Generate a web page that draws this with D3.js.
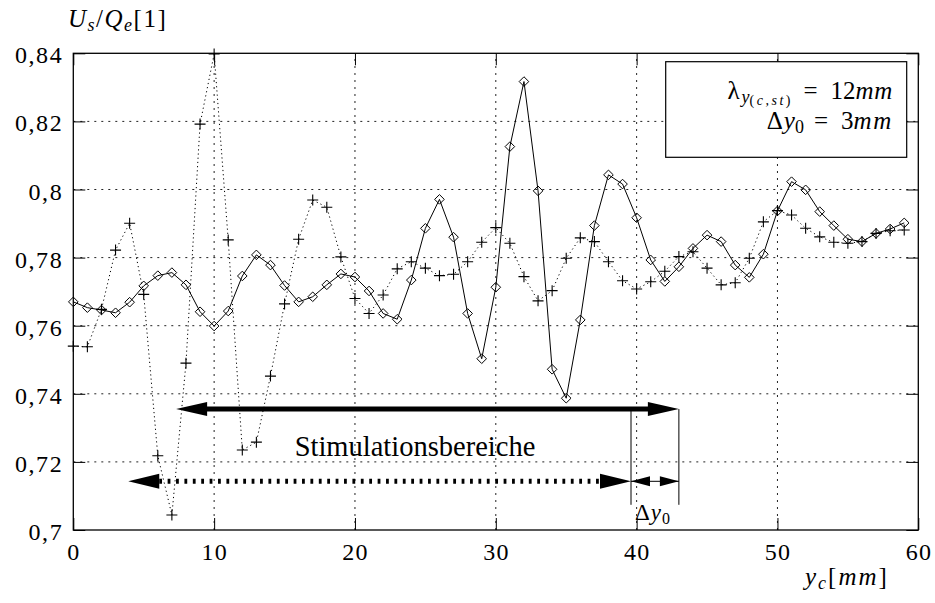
<!DOCTYPE html>
<html>
<head>
<meta charset="utf-8">
<script src="https://cdn.jsdelivr.net/npm/d3@7"></script>
<style>
  html, body { margin: 0; padding: 0; background: #fff; }
  svg { display: block; }
  .it { font-style: italic; }
</style>
</head>
<body>
<svg id="chart" width="935" height="603"></svg>
<script>
// Measurement positions y_c in mm
const yc = [0,1,2,3,4,5,6,7,8,9,10,11,12,13,14,15,16,17,18,19,
            20,21,22,23,24,25,26,27,28,29,30,31,32,33,34,35,36,37,38,39,
            40,41,42,43,44,45,46,47,48,49,50,51,52,53,54,55,56,57,58,59];

// U_s/Q_e, shifted stimulation range (solid line, diamonds)
const ratioShifted = [0.7670,0.7653,0.7646,0.7638,0.7669,0.7717,0.7747,0.7756,0.7720,0.7641,
                      0.7599,0.7643,0.7746,0.7808,0.7778,0.7718,0.7670,0.7685,0.7720,0.7752,
                      0.7743,0.7702,0.7636,0.7619,0.7734,0.7886,0.7971,0.7860,0.7636,0.7503,
                      0.7713,0.8126,0.8317,0.7996,0.7472,0.7387,0.7617,0.7894,0.8043,0.8016,
                      0.7917,0.7793,0.7730,0.7773,0.7827,0.7866,0.7847,0.7778,0.7742,0.7810,
                      0.7937,0.8023,0.7999,0.7935,0.7894,0.7854,0.7847,0.7871,0.7884,0.7902];

// U_s/Q_e, base stimulation range (dotted line, crosses)
const ratioBase = [0.7540,0.7538,0.7648,0.7822,0.7901,0.7692,0.7218,0.7044,0.7490,0.8192,
                   0.8398,0.7852,0.7235,0.7258,0.7452,0.7664,0.7854,0.7969,0.7948,0.7802,
                   0.7680,0.7636,0.7690,0.7767,0.7788,0.7769,0.7747,0.7751,0.7788,0.7845,
                   0.7888,0.7842,0.7744,0.7673,0.7703,0.7798,0.7858,0.7847,0.7788,0.7732,
                   0.7708,0.7729,0.7760,0.7803,0.7817,0.7769,0.7720,0.7726,0.7798,0.7905,
                   0.7938,0.7925,0.7886,0.7861,0.7845,0.7842,0.7847,0.7871,0.7879,0.7881];

// Axis ticks
const xTicks = [0,10,20,30,40,50,60];
const yTicks = [0.70,0.72,0.74,0.76,0.78,0.80,0.82,0.84];
const yTickLabels = ["0,7","0,72","0,74","0,76","0,78","0,8","0,82","0,84"];

// Stimulation ranges [start, end] in mm and their drawing levels
const rangeShifted = [7.3, 43.0];
const rangeBase = [3.9, 39.6];
const levelShifted = 0.7355;
const levelBase = 0.7143;
const markerBottom = 0.7074;

const SERIF = "'Liberation Serif', 'Times New Roman', serif";

const svg = d3.select("#chart");
const pLeft = 73.3, pRight = 918.3, pTop = 53.3, pBottom = 530;

const x = d3.scaleLinear().domain([0, 60]).range([pLeft, pRight]);
const y = d3.scaleLinear().domain([0.70, 0.84]).range([pBottom, pTop]);

// Dotted grid
const grid = svg.append("g").attr("stroke", "#222").attr("stroke-width", 1)
  .attr("stroke-dasharray", "2,5");
xTicks.filter(v => v > 0 && v < 60).forEach(v => {
  grid.append("line").attr("x1", x(v)).attr("x2", x(v)).attr("y1", pBottom).attr("y2", pTop);
});
yTicks.filter(v => v > 0.70 && v < 0.84).forEach(v => {
  grid.append("line").attr("x1", pLeft).attr("x2", pRight).attr("y1", y(v)).attr("y2", y(v));
});

// Inward ticks on all four sides via d3 axes
const tl = 12;
svg.append("g").attr("transform", `translate(0,${pBottom})`)
  .call(d3.axisTop(x).tickValues(xTicks).tickSize(tl).tickFormat(""))
  .call(g => g.select(".domain").remove());
svg.append("g").attr("transform", `translate(0,${pTop})`)
  .call(d3.axisBottom(x).tickValues(xTicks).tickSize(tl).tickFormat(""))
  .call(g => g.select(".domain").remove());
svg.append("g").attr("transform", `translate(${pLeft},0)`)
  .call(d3.axisRight(y).tickValues(yTicks).tickSize(tl).tickFormat(""))
  .call(g => g.select(".domain").remove());
svg.append("g").attr("transform", `translate(${pRight},0)`)
  .call(d3.axisLeft(y).tickValues(yTicks).tickSize(tl).tickFormat(""))
  .call(g => g.select(".domain").remove());
svg.selectAll(".tick line").attr("stroke", "#000").attr("stroke-width", 1);

// Tick labels
svg.append("g").selectAll("text").data(xTicks).join("text")
  .attr("font-family", SERIF).attr("font-size", 24).attr("letter-spacing", 1.2)
  .attr("text-anchor", "middle")
  .attr("x", d => x(d) + 0.6).attr("y", pBottom + 30).text(d => d);
svg.append("g").selectAll("text").data(yTicks).join("text")
  .attr("font-family", SERIF).attr("font-size", 24).attr("letter-spacing", 1.6)
  .attr("text-anchor", "end")
  .attr("x", pLeft - 10).attr("y", d => y(d) + 10).text((d, i) => yTickLabels[i]);

// Base range series: dotted line with crosses
const ptsBase = yc.map((v, i) => [v, ratioBase[i]]);
const ptsShifted = yc.map((v, i) => [v, ratioShifted[i]]);
const line = d3.line().x(d => x(d[0])).y(d => y(d[1]));

svg.append("path").datum(ptsBase).attr("d", line)
  .attr("fill", "none").attr("stroke", "#000").attr("stroke-width", 1)
  .attr("stroke-dasharray", "1.2,3");
const cr = 5.5;
svg.append("g").selectAll("path").data(ptsBase).join("path")
  .attr("d", d => `M${x(d[0]) - cr},${y(d[1])}H${x(d[0]) + cr}M${x(d[0])},${y(d[1]) - cr}V${y(d[1]) + cr}`)
  .attr("stroke", "#000").attr("stroke-width", 1.1).attr("fill", "none");

// Shifted range series: solid line with diamonds
svg.append("path").datum(ptsShifted).attr("d", line)
  .attr("fill", "none").attr("stroke", "#000").attr("stroke-width", 1);
const dr = 4.8;
svg.append("g").selectAll("path").data(ptsShifted).join("path")
  .attr("d", d => `M${x(d[0])},${y(d[1]) - dr}L${x(d[0]) + dr},${y(d[1])}L${x(d[0])},${y(d[1]) + dr}L${x(d[0]) - dr},${y(d[1])}Z`)
  .attr("stroke", "#000").attr("stroke-width", 1).attr("fill", "none");

// Frame
svg.append("rect").attr("x", pLeft).attr("y", pTop)
  .attr("width", pRight - pLeft).attr("height", pBottom - pTop)
  .attr("fill", "none").attr("stroke", "#000").attr("stroke-width", 1.3);

// Arrowhead helper: filled triangle with tip at (tx,ty) pointing in direction dir (+1 right, -1 left)
function head(tx, ty, dir, len, half) {
  svg.append("path")
    .attr("d", `M${tx},${ty}L${tx - dir * len},${ty - half}L${tx - dir * len},${ty + half}Z`)
    .attr("fill", "#000");
}

// Shifted stimulation range (thick solid double arrow)
const ys = y(levelShifted);
svg.append("line").attr("x1", x(rangeShifted[0]) + 20).attr("x2", x(rangeShifted[1]) - 20)
  .attr("y1", ys).attr("y2", ys).attr("stroke", "#000").attr("stroke-width", 5);
head(x(rangeShifted[0]), ys, -1, 31, 7);
head(x(rangeShifted[1]), ys, 1, 31, 7);

// Base stimulation range (thick dotted double arrow)
const yb = y(levelBase);
svg.append("line").attr("x1", x(rangeBase[0]) + 31).attr("x2", x(rangeBase[1]) - 31)
  .attr("y1", yb).attr("y2", yb).attr("stroke", "#000").attr("stroke-width", 5)
  .attr("stroke-dasharray", "2.8,5.6");
head(x(rangeBase[0]), yb, -1, 31, 7.5);
head(x(rangeBase[1]), yb, 1, 31, 7.5);

// Offset markers and Δy0 dimension arrow
svg.append("line").attr("x1", x(rangeBase[1])).attr("x2", x(rangeBase[1]))
  .attr("y1", ys).attr("y2", y(markerBottom)).attr("stroke", "#000").attr("stroke-width", 1);
svg.append("line").attr("x1", x(rangeShifted[1])).attr("x2", x(rangeShifted[1]))
  .attr("y1", ys).attr("y2", y(markerBottom)).attr("stroke", "#000").attr("stroke-width", 1);
svg.append("line").attr("x1", x(rangeBase[1])).attr("x2", x(rangeShifted[1]))
  .attr("y1", yb).attr("y2", yb).attr("stroke", "#000").attr("stroke-width", 1);
head(x(rangeBase[1]), yb, -1, 19, 5);
head(x(rangeShifted[1]), yb, 1, 19, 5);

const dy0 = svg.append("text").attr("font-family", SERIF).attr("font-size", 23)
  .attr("x", x(rangeBase[1]) + 4).attr("y", y(markerBottom) + 15);
dy0.append("tspan").text("Δ");
dy0.append("tspan").attr("class", "it").attr("dx", 1).text("y");
dy0.append("tspan").attr("font-size", 16).attr("dy", 4).attr("dx", 1).text("0");

// Range label
svg.append("text").attr("x", 415).attr("y", 456).attr("text-anchor", "middle")
  .attr("font-family", SERIF).attr("font-size", 28.5)
  .text("Stimulationsbereiche");

// Parameter box
svg.append("rect").attr("x", 665.7).attr("y", 61.7).attr("width", 241).attr("height", 95.6)
  .attr("fill", "#fff").attr("stroke", "#000").attr("stroke-width", 1.2);
const l1 = svg.append("text").attr("font-family", SERIF).attr("font-size", 25)
  .attr("text-anchor", "end").attr("x", 892.7).attr("y", 99.3);
l1.append("tspan").text("λ");
l1.append("tspan").attr("class", "it").attr("font-size", 18).attr("dy", 4).attr("dx", 2).text("y");
l1.append("tspan").attr("font-size", 14).attr("dy", 2).attr("letter-spacing", 2.5).text("(");
l1.append("tspan").attr("class", "it").attr("font-size", 14).attr("letter-spacing", 2.5).text("c,st");
l1.append("tspan").attr("font-size", 14).text(")");
l1.append("tspan").attr("dy", -6).attr("dx", 13).text("=");
l1.append("tspan").attr("dx", 13).text("12");
l1.append("tspan").attr("class", "it").attr("letter-spacing", 0.5).text("mm");
const l2 = svg.append("text").attr("font-family", SERIF).attr("font-size", 25)
  .attr("text-anchor", "end").attr("x", 892.7).attr("y", 129.3);
l2.append("tspan").text("Δ");
l2.append("tspan").attr("class", "it").attr("dx", 1).text("y");
l2.append("tspan").attr("font-size", 18).attr("dy", 4).text("0");
l2.append("tspan").attr("dy", -4).attr("dx", 10).text("=");
l2.append("tspan").attr("dx", 13).text("3");
l2.append("tspan").attr("class", "it").attr("letter-spacing", 1.5).text("mm");

// Axis titles
const yt = svg.append("text").attr("font-family", SERIF).attr("font-size", 25)
  .attr("letter-spacing", 1.5).attr("x", 68).attr("y", 27);
yt.append("tspan").attr("class", "it").text("U");
yt.append("tspan").attr("class", "it").attr("font-size", 18).attr("dy", 4).text("s");
yt.append("tspan").attr("dy", -4).text("/");
yt.append("tspan").attr("class", "it").text("Q");
yt.append("tspan").attr("class", "it").attr("font-size", 18).attr("dy", 4).text("e");
yt.append("tspan").attr("dy", -4).text("[1]");

const xt = svg.append("text").attr("font-family", SERIF).attr("font-size", 25)
  .attr("letter-spacing", 2).attr("x", 805).attr("y", 585);
xt.append("tspan").attr("class", "it").text("y");
xt.append("tspan").attr("class", "it").attr("font-size", 18).attr("dy", 4).text("c");
xt.append("tspan").attr("dy", -4).text("[");
xt.append("tspan").attr("class", "it").text("mm");
xt.append("tspan").text("]");
</script>
</body>
</html>
